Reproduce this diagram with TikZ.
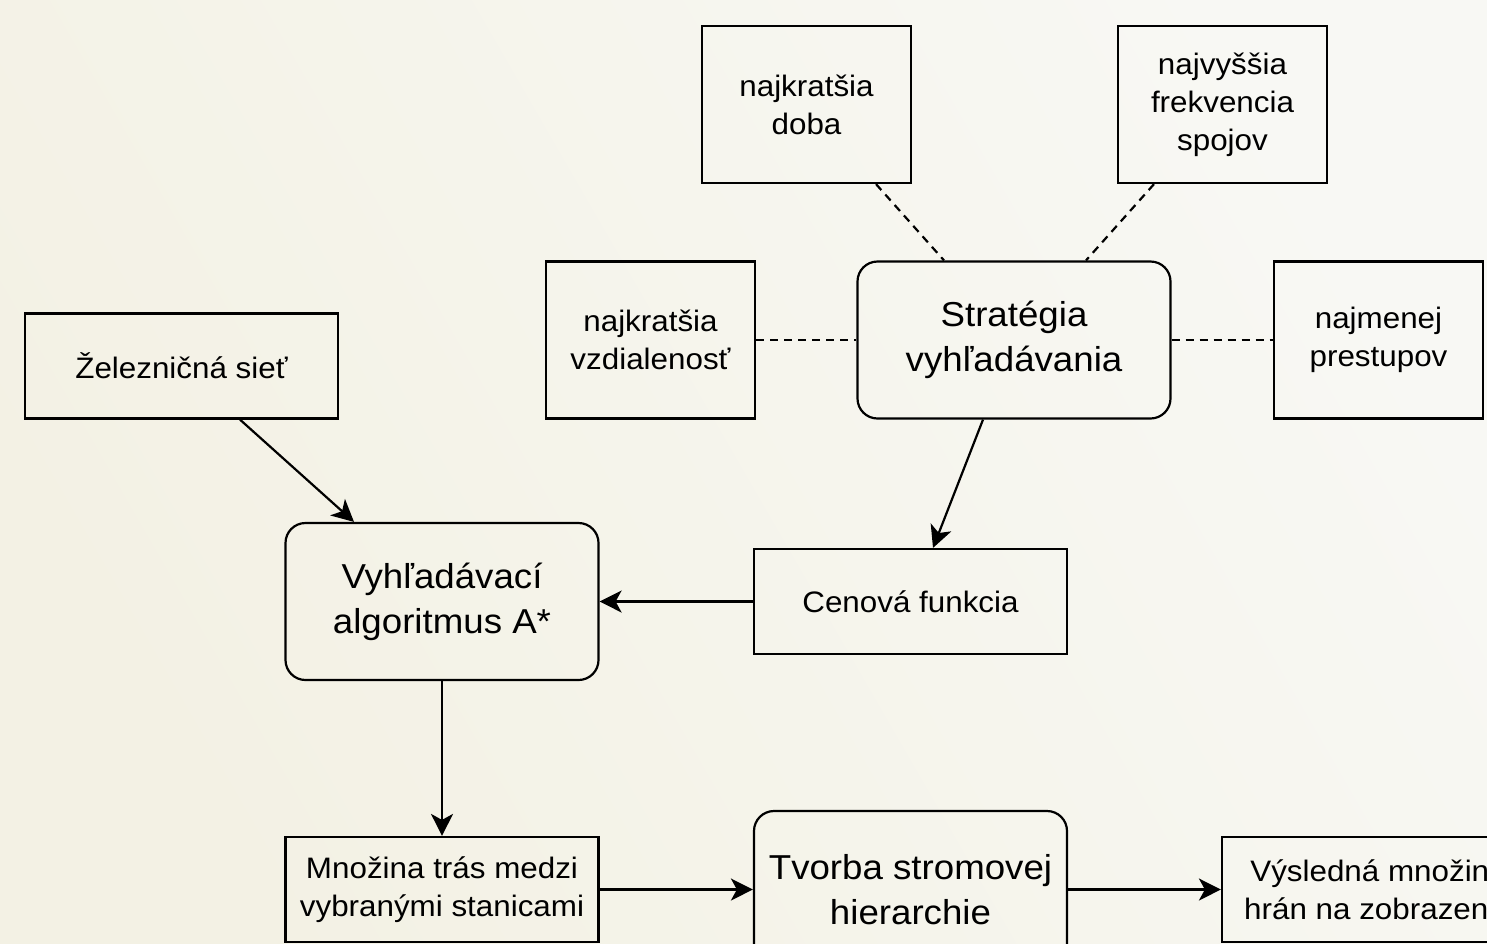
\documentclass[tikz,border=0pt]{standalone}
\usepackage{fontspec}
\setmainfont{Liberation Sans}[FakeStretch=1.06]
\usetikzlibrary{arrows.meta}
\definecolor{bgA}{HTML}{F3F1E4}
\definecolor{bgB}{HTML}{F8F8F4}
\begin{document}
\begin{tikzpicture}[x=0.5pt,y=-0.5pt,
  box/.style={draw, line width=1.1pt, align=center, inner sep=0pt,
    font=\fontsize{14.8}{19}\selectfont, text=black},
  sq/.style={box, minimum width=104.5pt, minimum height=78.5pt},
  wideshort/.style={box, minimum width=156.5pt, minimum height=52.5pt},
  roundbox/.style={box, rounded corners=10pt, minimum width=156.5pt, minimum height=78.5pt,
    font=\fontsize{17.3}{22.5}\selectfont},
  arr/.style={line width=1.1pt, -{Stealth[length=11pt,width=11pt,inset=3pt]}},
  dashline/.style={line width=1.1pt, dash pattern=on 4pt off 3pt}
]
\useasboundingbox (0,0) rectangle (1487,943);
\clip (0,0) rectangle (1487,943);
\shade[left color=bgA, right color=bgB, shading angle=120] (0,0) rectangle (1487,943);

\node[sq] (doba) at (806.5,104.5) {najkratšia\\doba};
\node[sq] (frek) at (1222.5,104.5) {najvyššia\\frekvencia\\spojov};
\node[sq] (vzd) at (650.5,340) {najkratšia\\vzdialenosť};
\node[roundbox] (strat) at (1014,340) {Stratégia\\vyhľadávania};
\node[sq] (prest) at (1378.5,340) {najmenej\\prestupov};
\node[wideshort] (zel) at (181.5,366) {Železničná sieť};
\node[roundbox] (vyh) at (442,601.5) {Vyhľadávací\\algoritmus A*};
\node[wideshort] (cen) at (910.5,601.5) {Cenová funkcia};
\node[wideshort] (mno) at (442,889.5) {Množina trás medzi\\vybranými stanicami};
\node[roundbox] (tvo) at (910.5,889.5) {Tvorba stromovej\\hierarchie};
\node[wideshort] (vys) at (1378.5,889.5) {Výsledná množina\\hrán na zobrazenie};

\draw[dashline] ([xshift=34.75pt]doba.south) -- ([xshift=-35pt]strat.north);
\draw[dashline] ([xshift=-34.25pt]frek.south) -- ([xshift=36pt]strat.north);
\draw[dashline] (vzd.east) -- (strat.west);
\draw[dashline] (strat.east) -- (prest.west);

\draw[arr] ([xshift=29.25pt]zel.south) -- ([xshift=-44pt]vyh.north);
\draw[arr] ([xshift=-15.5pt]strat.south) -- ([xshift=11.25pt]cen.north);
\draw[arr] (cen.west) -- (vyh.east);
\draw[arr] (vyh.south) -- (mno.north);
\draw[arr] (mno.east) -- (tvo.west);
\draw[arr] (tvo.east) -- (vys.west);
\end{tikzpicture}
\end{document}
